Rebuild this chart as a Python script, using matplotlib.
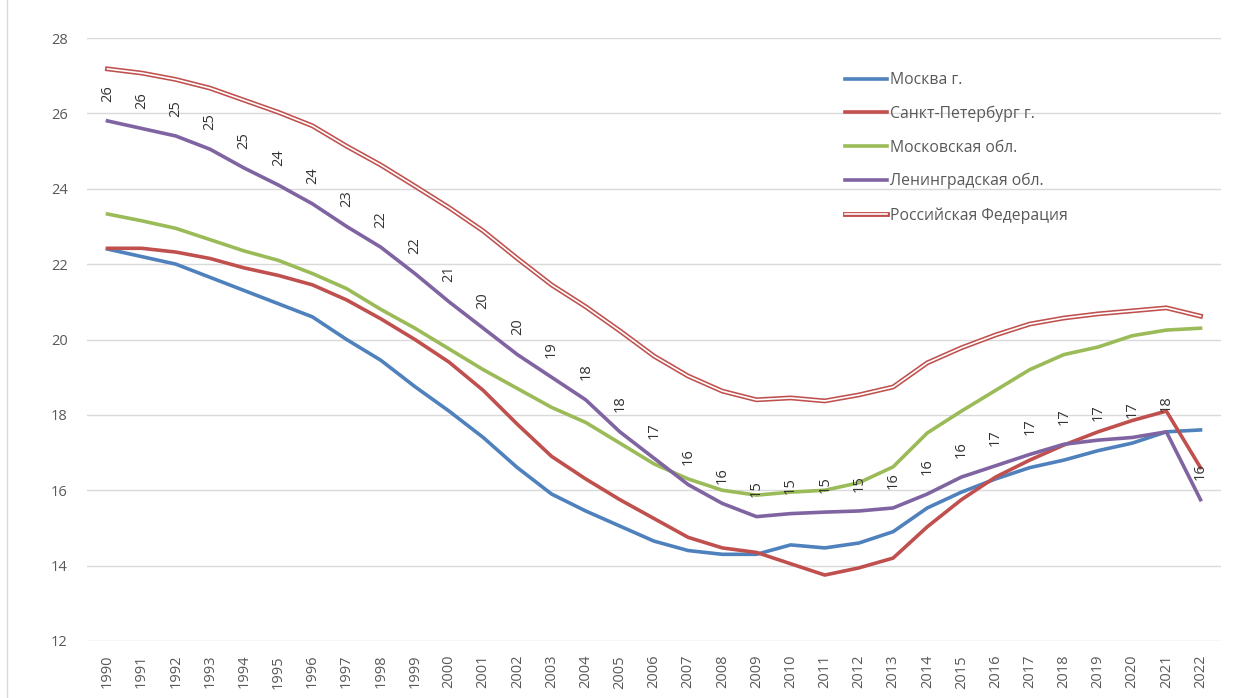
import matplotlib.pyplot as plt
import matplotlib.patheffects as pe
from matplotlib.lines import Line2D

years = [str(y) for y in range(1990, 2023)]

moscow = [22.4, 22.2, 22.0, 21.65, 21.3, 20.95, 20.6, 20.0, 19.45, 18.75,
          18.1, 17.4, 16.6, 15.9, 15.45, 15.05, 14.65, 14.4, 14.3, 14.3,
          14.55, 14.47, 14.6, 14.9, 15.53, 15.95, 16.3, 16.6, 16.8, 17.05,
          17.25, 17.55, 17.6]
spb = [22.42, 22.42, 22.32, 22.15, 21.9, 21.7, 21.45, 21.05, 20.55, 20.0,
       19.4, 18.65, 17.75, 16.9, 16.3, 15.75, 15.25, 14.75, 14.47, 14.35,
       14.05, 13.75, 13.94, 14.2, 15.03, 15.75, 16.35, 16.8, 17.2, 17.55,
       17.85, 18.1, 16.6]
mos_obl = [23.33, 23.15, 22.95, 22.65, 22.35, 22.1, 21.75, 21.35, 20.8, 20.3,
           19.75, 19.2, 18.7, 18.2, 17.8, 17.25, 16.7, 16.3, 16.0, 15.87,
           15.95, 16.0, 16.2, 16.62, 17.52, 18.1, 18.65, 19.2, 19.6, 19.8,
           20.1, 20.25, 20.3]
len_obl = [25.8, 25.6, 25.4, 25.05, 24.55, 24.1, 23.6, 23.0, 22.45, 21.75,
           21.0, 20.3, 19.6, 19.0, 18.4, 17.55, 16.85, 16.15, 15.65, 15.3,
           15.38, 15.42, 15.45, 15.53, 15.9, 16.35, 16.65, 16.95, 17.22, 17.33,
           17.4, 17.55, 15.75]
russia = [27.18, 27.07, 26.9, 26.67, 26.35, 26.03, 25.67, 25.13, 24.63, 24.07,
          23.5, 22.88, 22.15, 21.45, 20.87, 20.23, 19.56, 19.03, 18.63, 18.4,
          18.45, 18.37, 18.53, 18.74, 19.38, 19.78, 20.12, 20.41, 20.57, 20.68,
          20.76, 20.84, 20.62]

names = ['Москва г.', 'Санкт-Петербург г.', 'Московская обл.',
         'Ленинградская обл.', 'Российская Федерация']
colors = ['#4f81bd', '#c0504d', '#9bbb59', '#8064a2', '#c0504d']

plt.rcParams['font.family'] = ['Open Sans', 'DejaVu Sans']

fig = plt.figure(figsize=(12.44, 6.98), dpi=100)
ax = fig.add_axes([87 / 1244, 1 - 641 / 698, 1134 / 1244, 603 / 698])

x = list(range(len(years)))
ax.plot(x, moscow, color=colors[0], lw=2.6, label=names[0], solid_joinstyle='round')
ax.plot(x, spb, color=colors[1], lw=2.6, label=names[1], solid_joinstyle='round')
ax.plot(x, mos_obl, color=colors[2], lw=2.6, label=names[2], solid_joinstyle='round')
ax.plot(x, len_obl, color=colors[3], lw=2.6, label=names[3], solid_joinstyle='round')
# double red line: white core over a wider red stroke
ax.plot(x, russia, color='white', lw=1.2, label=names[4],
        path_effects=[pe.Stroke(linewidth=3.5, foreground=colors[4]), pe.Normal()])

# values of the Leningrad region, rotated above each point
for xi, v in zip(x, len_obl):
    ax.annotate(f'{v:.0f}', (xi, v), xytext=(0, 20), textcoords='offset points',
                rotation=90, ha='center', va='center', fontsize=10.5,
                color='#333333')

ax.set_xlim(-0.6, len(years) - 0.4)
ax.set_ylim(12, 28)
ax.set_yticks(range(12, 29, 2))
ax.set_xticks(x)
ax.set_xticklabels(years, rotation=90)
ax.tick_params(length=0, labelsize=10.5, labelcolor='#595959')
ax.tick_params(axis='x', pad=10)
ax.tick_params(axis='y', pad=14)
ax.grid(axis='y', color='#d9d9d9', lw=1)
ax.set_axisbelow(True)
for s in ax.spines.values():
    s.set_visible(False)

leg = ax.legend(loc='upper left', bbox_to_anchor=(845 / 1244, 1 - 72 / 698),
                bbox_transform=fig.transFigure, frameon=False, fontsize=11.3,
                handlelength=2.7, handletextpad=0.15, labelspacing=1.12,
                borderpad=0, borderaxespad=0)
for t in leg.get_texts():
    t.set_color('#595959')

# left border of the chart area
fig.add_artist(Line2D([7 / 1244, 7 / 1244], [0, 1], color='#d9d9d9', lw=1))

fig.savefig('out.png', dpi=100)
